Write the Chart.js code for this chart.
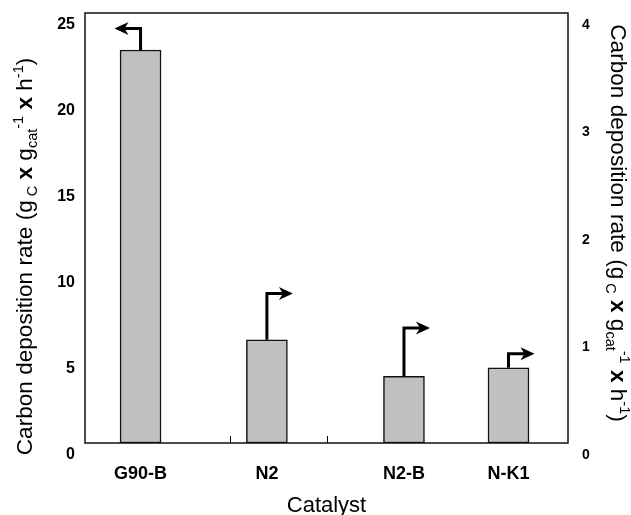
<!DOCTYPE html>
<html><head><meta charset="utf-8">
<script src="https://cdn.jsdelivr.net/npm/chart.js@4"></script>
<style>html,body{margin:0;padding:0;background:#fff;}</style>
</head><body>
<canvas id="c" width="631" height="515"></canvas>
<script>
// ---- data ----
const categories = ['G90-B', 'N2', 'N2-B', 'N-K1'];
const categoryPositions = [0.575, 1.883, 3.302, 4.384];   // position along the catalyst axis (0..5)
const leftAxisValues = [22.85, null, null, null];          // left axis (0-25)
const rightAxisValues = [null, 0.96, 0.62, 0.70];          // right axis (0-4)
const arrowLevels = [24.1, 1.39, 1.07, 0.83];              // elbow height of each arrow, in its axis units
const arrowDirections = ['left', 'right', 'right', 'right'];
const leftTicks = [0, 5, 10, 15, 20, 25];
const rightTicks = [0, 1, 2, 3, 4];
const slotTicks = [0.5, 1.5, 2.5, 3.5, 4.5];

const FONT = "'Liberation Sans', Arial, Helvetica, sans-serif";
Chart.defaults.font.family = FONT;
Chart.defaults.color = '#000';

const titleSegments = [
  {t: 'Carbon deposition rate (g', s: 22.6},
  {t: ' C', s: 14.5, dy: 5},
  {t: ' x ', s: 22.6, w: 'bold'},
  {t: 'g', s: 22.6},
  {t: 'cat', s: 14.5, dy: 5},
  {t: '-1', s: 14.5, dy: -9},
  {t: ' x ', s: 22.6, w: 'bold'},
  {t: 'h', s: 22.6},
  {t: '-1', s: 14.5, dy: -9},
  {t: ')', s: 22.6}
];

function drawRich(ctx, segs, cx, cy, rot) {
  ctx.save();
  ctx.translate(cx, cy);
  ctx.rotate(rot);
  ctx.textBaseline = 'alphabetic';
  ctx.textAlign = 'left';
  ctx.fillStyle = '#000';
  let total = 0;
  const widths = segs.map(g => {
    ctx.font = (g.w || 'normal') + ' ' + g.s + 'px ' + FONT;
    const w = ctx.measureText(g.t).width; total += w; return w;
  });
  let x = -total / 2;
  segs.forEach((g, i) => {
    ctx.font = (g.w || 'normal') + ' ' + g.s + 'px ' + FONT;
    ctx.fillText(g.t, x, g.dy || 0);
    x += widths[i];
  });
  ctx.restore();
}

const decorations = {
  id: 'decorations',
  beforeDatasetsDraw(chart) {
    const {ctx, chartArea, scales} = chart;
    ctx.save();
    ctx.strokeStyle = '#000';
    ctx.lineWidth = 1;
    slotTicks.forEach(v => {
      const x = Math.round(scales.x.getPixelForValue(v)) + 0.5;
      ctx.beginPath();
      ctx.moveTo(x, chartArea.bottom);
      ctx.lineTo(x, chartArea.bottom - 7);
      ctx.stroke();
    });
    ctx.restore();
  },
  afterDatasetsDraw(chart) {
    const {ctx, chartArea, scales} = chart;
    ctx.save();
    ctx.strokeStyle = '#111';
    ctx.lineWidth = 1.5;
    ctx.strokeRect(chartArea.left, chartArea.top, chartArea.right - chartArea.left, chartArea.bottom - chartArea.top);
    ctx.strokeStyle = '#000';
    ctx.fillStyle = '#000';
    ctx.lineWidth = 3;
    categories.forEach((c, i) => {
      const useLeft = leftAxisValues[i] !== null;
      const ys = useLeft ? scales.y : scales.y2;
      const val = useLeft ? leftAxisValues[i] : rightAxisValues[i];
      const x = scales.x.getPixelForValue(categoryPositions[i]);
      const yTop = ys.getPixelForValue(val);
      const yElbow = ys.getPixelForValue(arrowLevels[i]);
      const dir = arrowDirections[i] === 'left' ? -1 : 1;
      const tipX = x + dir * 26;
      ctx.beginPath();
      ctx.moveTo(x, yTop);
      ctx.lineTo(x, yElbow);
      ctx.lineTo(tipX - dir * 8, yElbow);
      ctx.lineJoin = 'miter';
      ctx.stroke();
      ctx.beginPath();
      ctx.moveTo(tipX, yElbow);
      ctx.lineTo(tipX - dir * 14, yElbow - 6.5);
      ctx.lineTo(tipX - dir * 10, yElbow);
      ctx.lineTo(tipX - dir * 14, yElbow + 6.5);
      ctx.closePath();
      ctx.fill();
    });
    ctx.restore();
  },
  afterDraw(chart) {
    const ctx = chart.ctx;
    drawRich(ctx, titleSegments, 32, 256.5, -Math.PI / 2);
    drawRich(ctx, titleSegments, 611, 223, Math.PI / 2);
  }
};

const barStyle = {
  backgroundColor: '#c0c0c0',
  borderColor: '#111',
  borderWidth: 1.5,
  borderSkipped: false,
  barThickness: 41,
  grouped: false
};

new Chart(document.getElementById('c'), {
  type: 'bar',
  data: {
    datasets: [
      Object.assign({
        data: categoryPositions.map((x, i) => ({x, y: leftAxisValues[i]})).filter(p => p.y !== null),
        yAxisID: 'y'
      }, barStyle),
      Object.assign({
        data: categoryPositions.map((x, i) => ({x, y: rightAxisValues[i]})).filter(p => p.y !== null),
        yAxisID: 'y2'
      }, barStyle)
    ]
  },
  options: {
    responsive: false,
    animation: false,
    devicePixelRatio: 1,
    layout: {padding: {left: 0, right: 0, top: 13, bottom: 0}},
    plugins: {legend: {display: false}, tooltip: {enabled: false}, colors: {enabled: false}},
    scales: {
      x: {
        type: 'linear',
        min: 0, max: 5,
        offset: false,
        grid: {display: false, drawTicks: false, offset: false},
        border: {display: false},
        afterBuildTicks: s => { s.ticks = categoryPositions.map(v => ({value: v})); },
        afterFit: s => { s.height = 72; s.paddingLeft = 0; s.paddingRight = 0; },
        ticks: {
          autoSkip: false, maxRotation: 0, minRotation: 0,
          padding: 20,
          font: {size: 18, weight: 'bold'},
          callback: (v, i) => categories[i]
        },
        title: {display: true, text: 'Catalyst', font: {size: 22, lineHeight: 0.78}, padding: {top: 0, bottom: 0}}
      },
      y: {
        type: 'linear', position: 'left',
        min: 0, max: 25,
        grid: {display: false, drawTicks: false},
        border: {display: false},
        afterBuildTicks: s => { s.ticks = leftTicks.map(v => ({value: v})); },
        afterFit: s => { s.width = 85; s.paddingTop = 0; s.paddingBottom = 0; },
        ticks: {padding: 10, labelOffset: 12, font: {size: 16, weight: 'bold'}}
      },
      y2: {
        type: 'linear', position: 'right',
        min: 0, max: 4,
        grid: {display: false, drawTicks: false},
        border: {display: false},
        afterBuildTicks: s => { s.ticks = rightTicks.map(v => ({value: v})); },
        afterFit: s => { s.width = 63; s.paddingTop = 0; s.paddingBottom = 0; },
        ticks: {padding: 14, labelOffset: 12, font: {size: 14, weight: 'bold'}}
      }
    }
  },
  plugins: [decorations]
});
</script>
</body></html>
